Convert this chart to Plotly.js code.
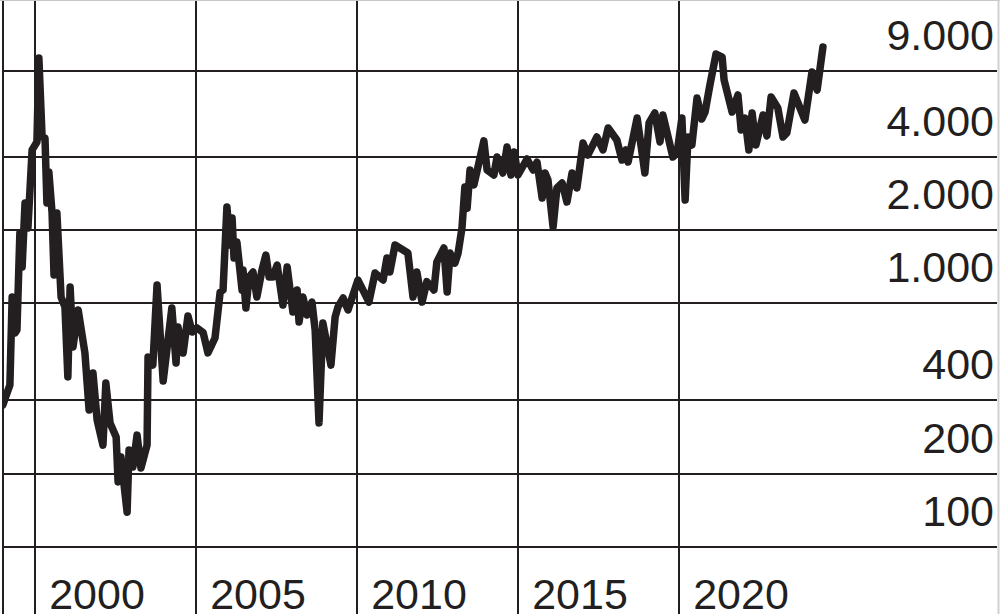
<!DOCTYPE html>
<html><head><meta charset="utf-8">
<script src="https://cdn.plot.ly/plotly-3.0.1.min.js"></script>
<style>
html,body{margin:0;padding:0;background:#fff;}
#chart{width:1000px;height:614px;}
.js-line{stroke-linejoin:round !important;stroke-linecap:round !important;}
</style>
</head><body><div id="chart"></div>
<script>
const years = [
1999.00,1999.22,1999.29,1999.38,1999.44,1999.53,1999.60,1999.69,1999.78,1999.91,
2000.06,2000.12,2000.22,2000.31,2000.37,2000.43,2000.53,2000.59,2000.68,2000.81,2000.93,
2001.02,2001.09,2001.18,2001.34,2001.55,2001.68,2001.80,2001.93,
2002.11,2002.20,2002.33,2002.52,2002.58,2002.67,2002.86,2002.92,
2003.04,2003.17,2003.29,2003.48,2003.51,2003.66,2003.79,2003.98,
2004.13,2004.25,2004.38,2004.44,2004.60,2004.75,2004.88,
2005.03,2005.22,2005.37,2005.59,2005.75,2005.84,2005.96,
2006.06,2006.12,2006.18,2006.27,2006.43,2006.46,2006.55,2006.65,2006.77,2006.89,
2007.05,2007.17,2007.27,2007.39,2007.52,2007.61,2007.70,2007.83,2007.92,
2008.01,2008.14,2008.20,2008.32,2008.45,2008.60,2008.70,2008.82,2008.94,
2009.19,2009.32,2009.41,2009.57,2009.72,
2010.03,2010.37,2010.56,2010.81,2010.93,
2011.02,2011.18,2011.58,2011.74,2011.86,
2012.02,2012.17,2012.39,2012.48,2012.70,2012.80,2012.89,
2013.04,2013.14,2013.26,2013.35,2013.42,2013.51,2013.63,2013.76,2013.94,
2014.04,2014.25,2014.35,2014.53,2014.66,2014.78,2014.88,
2015.00,2015.28,2015.47,2015.59,2015.75,2015.84,2015.93,
2016.09,2016.21,2016.37,2016.52,2016.68,2016.83,
2017.02,2017.17,2017.45,2017.64,2017.80,
2018.07,2018.23,2018.35,2018.42,2018.70,2018.94,
2019.07,2019.25,2019.41,2019.50,2019.81,2019.94,
2020.09,2020.19,2020.28,2020.40,2020.56,2020.71,2020.81,2020.96,
2021.15,2021.34,2021.40,2021.65,2021.83,2021.93,
2022.05,2022.17,2022.27,2022.39,2022.61,2022.73,2022.86,
2023.07,2023.23,2023.35,2023.57,2023.91,
2024.13,2024.29,2024.47
];
const values = [
383,462,1062,756,778,1945,1410,2583,2040,4266,
4600,10170,4820,4775,2583,3460,2350,1308,2350,1062,967,
499,1168,662,940,626,365,518,332,
262,471,323,283,185,234,139,250,
213,288,211,262,603,558,1191,480,
728,957,569,800,626,888,763,
793,760,626,721,1114,1135,2487,
1736,2242,1536,1786,1135,1371,957,1284,1345,1062,
1371,1580,1284,1284,1437,1213,985,1410,1135,
922,1135,839,1062,896,1013,778,323,831,
558,879,967,1052,940,
1247,1013,1333,1247,1536,
1345,1736,1610,1062,1345,
1013,1228,1135,1479,1688,1114,1610,
1465,1610,2040,3006,2460,3530,3063,3630,4645,
3530,3366,3990,3430,4385,3366,4185,
3366,3916,3530,3804,2708,3430,3211,
2059,2977,3120,2608,3430,2977,
4552,4064,4820,4266,5250,
4686,3877,4266,3804,5768,3430,
5503,6048,4600,5935,3990,4143,
5768,2656,4820,4470,6966,5712,6104,7882,
10563,10260,8265,6104,7175,5150,
5768,4266,6048,4470,5935,4869,7036,
6340,4820,5008,7305,5660,
8909,7513,11290
];
const yTickVals = [100,200,400,1000,2000,4000,9000];
const yTickText = ['100','200','400','1.000','2.000','4.000','9.000'];
const xTickVals = [2000,2005,2010,2015,2020];
const xTickText = ['2000','2005','2010','2015','2020'];

const ink = '#231f20';
const fontFam = '"Liberation Sans",Arial,Helvetica,sans-serif';

const trace = {
  x: years, y: values, type: 'scatter', mode: 'lines',
  line: {color: ink, width: 7.5},
  hoverinfo: 'skip', showlegend: false
};

const layout = {
  width: 1000, height: 614,
  margin: {l: 3, r: 3, t: 0, b: 0, pad: 0},
  paper_bgcolor: '#ffffff', plot_bgcolor: '#ffffff',
  showlegend: false,
  xaxis: {
    range: [1999.006, 2029.876],
    tickmode: 'array', tickvals: xTickVals, ticktext: xTickText,
    showgrid: true, gridcolor: ink, gridwidth: 2,
    zeroline: false, showline: false, ticks: '',
    ticklabelshift: 62, ticklabelstandoff: -49,
    tickfont: {family: fontFam, size: 43, color: ink},
    fixedrange: true
  },
  yaxis: {
    type: 'log', range: [1.725, 4.2455], side: 'right',
    tickmode: 'array', tickvals: yTickVals, ticktext: yTickText,
    ticklabelposition: 'inside', ticklabelshift: -36,
    showgrid: true, gridcolor: ink, gridwidth: 2,
    zeroline: false, showline: false, ticks: '',
    tickfont: {family: fontFam, size: 43, color: ink},
    fixedrange: true
  },
  shapes: [
    {type: 'line', xref: 'paper', yref: 'paper', x0: 0, x1: 0, y0: 0, y1: 1, line: {color: ink, width: 2}},
    {type: 'line', xref: 'paper', yref: 'paper', x0: -0.01, x1: 1.01, y0: 1, y1: 1, line: {color: '#c8c8c8', width: 2}},
    {type: 'line', xref: 'paper', yref: 'paper', x0: 1.0015, x1: 1.0015, y0: 0, y1: 1, line: {color: '#d0d0d0', width: 2}}
  ]
};

Plotly.newPlot('chart', [trace], layout, {displayModeBar: false, staticPlot: true});
</script>
</body></html>
